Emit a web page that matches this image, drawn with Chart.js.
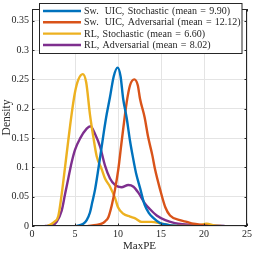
<!DOCTYPE html>
<html><head><meta charset="utf-8">
<script src="https://cdn.jsdelivr.net/npm/chart.js@4.4.1/dist/chart.umd.min.js"></script>
<style>html,body{margin:0;padding:0;background:#fff}#wrap{width:254px;height:253px}</style>
</head><body><div id="wrap"><canvas id="c" width="254" height="253"></canvas></div>
<script>
const xTicks = [0, 5, 10, 15, 20, 25];
const yTicks = [0, 0.05, 0.1, 0.15, 0.2, 0.25, 0.3, 0.35];
const seriesNames = [
  'Sw. UIC, Stochastic (mean = 9.90)',
  'Sw. UIC, Adversarial (mean = 12.12)',
  'RL, Stochastic (mean = 6.60)',
  'RL, Adversarial (mean = 8.02)'
];
const seriesColors = ['#0072BD', '#D95319', '#EDB120', '#7E2F8E'];

const swStochX = [5.2, 5.97, 6.36, 6.74, 7.0, 7.33, 7.64, 8.1, 8.35, 8.68, 9.07, 9.5, 9.96, 10.3, 10.6, 11.0, 11.4, 11.7, 12.1, 12.56, 13.1, 13.6, 14.1, 14.9, 15.8, 17.0];
const swStochY = [0, 0.004, 0.01, 0.023, 0.04, 0.062, 0.09, 0.135, 0.16, 0.19, 0.22, 0.255, 0.27, 0.255, 0.217, 0.185, 0.145, 0.12, 0.09, 0.065, 0.036, 0.022, 0.014, 0.005, 0.002, 0];

const swAdvX = [6.5, 7.5, 8.1, 8.5, 8.88, 9.27, 9.65, 10.04, 10.35, 10.6, 11.0, 11.4, 11.9, 12.3, 12.56, 13.1, 13.5, 14.0, 14.3, 14.9, 15.5, 16.05, 17.2, 18.0, 18.75, 19.8, 20.6];
const swAdvY = [0, 0.002, 0.004, 0.008, 0.015, 0.035, 0.062, 0.097, 0.135, 0.165, 0.21, 0.24, 0.25, 0.24, 0.217, 0.185, 0.152, 0.12, 0.097, 0.062, 0.032, 0.018, 0.01, 0.007, 0.004, 0.002, 0];

const rlStochX = [1.8, 2.1, 2.6, 3.06, 3.45, 3.84, 4.22, 4.6, 5.0, 5.4, 5.9, 6.3, 6.74, 7.13, 7.52, 8.1, 8.49, 9.07, 9.65, 10.0, 10.6, 11.4, 12.0, 12.75, 13.9, 15.05, 16.2, 17.5, 18.8, 19.4, 20.3, 21.2, 22.0];
const rlStochY = [0, 0.002, 0.007, 0.017, 0.054, 0.1, 0.146, 0.19, 0.228, 0.25, 0.259, 0.245, 0.19, 0.152, 0.119, 0.097, 0.081, 0.067, 0.048, 0.032, 0.021, 0.016, 0.013, 0.007, 0.007, 0.004, 0.001, 0, 0, 0.001, 0.004, 0.001, 0];

const rlAdvX = [1.5, 2.3, 2.87, 3.45, 3.84, 4.22, 4.6, 5.0, 5.58, 6.36, 6.8, 7.33, 7.9, 8.49, 9.07, 9.65, 10.4, 11.2, 11.8, 12.4, 13.1, 13.7, 14.5, 15.5, 16.6, 17.5, 18.75, 20.3, 22.4];
const rlAdvY = [0, 0.001, 0.007, 0.026, 0.054, 0.081, 0.108, 0.13, 0.149, 0.166, 0.17, 0.157, 0.136, 0.103, 0.081, 0.07, 0.066, 0.07, 0.067, 0.056, 0.039, 0.029, 0.018, 0.01, 0.005, 0.003, 0.002, 0.001, 0];

const seriesX = [swStochX, swAdvX, rlStochX, rlAdvX];
const seriesY = [swStochY, swAdvY, rlStochY, rlAdvY];

const TXT = '#262626';
const FONT = "'Liberation Serif', 'Times New Roman', serif";

const datasets = seriesNames.map((n, i) => ({
  label: n,
  data: seriesX[i].map((x, j) => ({ x: x, y: seriesY[i][j] })),
  borderColor: seriesColors[i],
  backgroundColor: seriesColors[i],
  borderWidth: 2.4,
  pointRadius: 0,
  fill: false,
  cubicInterpolationMode: 'monotone'
}));

const framePlugin = {
  id: 'frame',
  afterDatasetsDraw(chart) {
    const ctx = chart.ctx, a = chart.chartArea;
    const xs = chart.scales.x, ys = chart.scales.y;
    ctx.save();
    ctx.strokeStyle = TXT;
    ctx.lineWidth = 1;
    ctx.strokeRect(Math.round(a.left) + 0.5, Math.round(a.top) + 0.5, Math.round(a.right - a.left) - 1, Math.round(a.bottom - a.top) - 1);
    const tl = 2.5;
    ctx.beginPath();
    xTicks.forEach(v => {
      const p = Math.round(xs.getPixelForValue(v)) + 0.5;
      ctx.moveTo(p, a.bottom); ctx.lineTo(p, a.bottom - tl);
      ctx.moveTo(p, a.top); ctx.lineTo(p, a.top + tl);
    });
    yTicks.forEach(v => {
      const p = Math.round(ys.getPixelForValue(v)) + 0.5;
      ctx.moveTo(a.left, p); ctx.lineTo(a.left + tl, p);
      ctx.moveTo(a.right, p); ctx.lineTo(a.right - tl, p);
    });
    ctx.stroke();
    // legend
    const bx = 39.5, by = 3.5, bw = 202.5, bh = 50;
    ctx.fillStyle = '#ffffff';
    ctx.fillRect(bx, by, bw, bh);
    ctx.strokeStyle = TXT;
    ctx.lineWidth = 1;
    ctx.strokeRect(bx, by, bw, bh);
    ctx.font = '10px ' + FONT;
    ctx.textBaseline = 'middle';
    ctx.textAlign = 'left';
    try { ctx.wordSpacing = '0.8px'; } catch (e) {}
    const rows = [11, 22.3, 33.6, 45];
    seriesNames.forEach((n, i) => {
      ctx.strokeStyle = seriesColors[i];
      ctx.lineWidth = 2.4;
      ctx.beginPath();
      ctx.moveTo(43, rows[i]); ctx.lineTo(81, rows[i]);
      ctx.stroke();
      ctx.fillStyle = TXT;
      let x0 = 84;
      let s = n;
      if (s.startsWith('Sw. ')) {
        ctx.fillText('Sw.', x0, rows[i] + 0.5);
        x0 += ctx.measureText('Sw.').width + 6;
        s = s.slice(4);
      }
      ctx.fillText(s, x0, rows[i] + 0.5);
    });
    ctx.restore();
  }
};

new Chart(document.getElementById('c'), {
  type: 'line',
  data: { datasets: datasets },
  options: {
    responsive: false,
    animation: false,
    devicePixelRatio: 1,
    layout: { padding: { top: 1, right: 7, left: 0, bottom: 0 } },
    plugins: { legend: { display: false }, tooltip: { enabled: false } },
    scales: {
      x: {
        type: 'linear', min: 0, max: 25,
        afterBuildTicks: s => { s.ticks = xTicks.map(v => ({ value: v })); },
        afterFit: s => { s.height = 27; },
        grid: { color: '#e4e4e4', lineWidth: 1, drawTicks: false },
        border: { display: false },
        ticks: { color: TXT, font: { family: FONT, size: 10 }, padding: 2, maxRotation: 0, callback: v => String(v) },
        title: { display: true, text: 'MaxPE', color: TXT, font: { family: FONT, size: 11 }, padding: { top: 0, bottom: 0 } }
      },
      y: {
        type: 'linear', min: 0, max: 0.37,
        afterBuildTicks: s => { s.ticks = yTicks.map(v => ({ value: v })); },
        afterFit: s => { s.width = 32; },
        grid: { color: '#e4e4e4', lineWidth: 1, drawTicks: false },
        border: { display: false },
        ticks: { color: TXT, font: { family: FONT, size: 10 }, padding: 3, callback: v => String(v) },
        title: { display: true, text: 'Density', color: TXT, font: { family: FONT, size: 11.5 }, padding: { top: 0, bottom: 0 } }
      }
    }
  },
  plugins: [framePlugin]
});
</script>
</body></html>
